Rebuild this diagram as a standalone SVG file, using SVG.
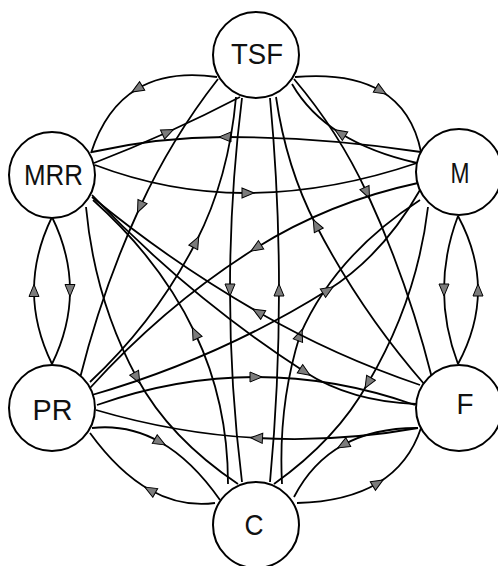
<svg xmlns="http://www.w3.org/2000/svg" width="498" height="566" viewBox="0 0 498 566">
  <style>
    .edge { fill: none; stroke: #000; stroke-width: 1.8; marker-mid: url(#arr); }
    .node circle { fill: #fff; stroke: #000; stroke-width: 2; }
    .node text { font-family: "Liberation Sans", Arial, sans-serif; font-size: 29px; fill: #111; text-anchor: middle; dominant-baseline: central; }
  </style>
  <defs>
    <marker id="arr" viewBox="0 0 14 12" refX="7" refY="6" markerWidth="14" markerHeight="12" markerUnits="userSpaceOnUse" orient="auto">
      <path d="M1,1 L13,6 L1,11 Z" fill="#7c7c7c" stroke="#000" stroke-width="1"/>
    </marker>
  </defs>
  <rect width="498" height="566" fill="#fff"/>

  <g id="connectors">
    <!-- ring neighbours -->
    <path class="edge" d="M217,77 Q168.5,70 137,89 Q105.5,108 91,153"/>
    <path class="edge" d="M94,163 Q131.5,148.5 168,132 Q204.5,115.5 240,97"/>
    <path class="edge" d="M295,77 Q349.5,72.25 381,91 Q412.5,109.75 421,152"/>
    <path class="edge" d="M417,163 Q371.25,152.75 340,133 Q308.75,113.25 292,84"/>
    <path class="edge" d="M52,217 Q70,253.75 70,290.5 Q70,327.25 52,364"/>
    <path class="edge" d="M52,364 Q34,327.25 34,290.5 Q34,253.75 52,217"/>
    <path class="edge" d="M458,216 Q444,253 444,290 Q444,327 458,364"/>
    <path class="edge" d="M458,364 Q478,327 478,290 Q478,253 458,216"/>
    <path class="edge" d="M92,428 Q128,424 160,442 Q192,460 220,500"/>
    <path class="edge" d="M215,503 Q181.25,507.5 150,490 Q118.75,472.5 90,433"/>
    <path class="edge" d="M297,503 Q347,501.75 378,483 Q409,464.25 421,428"/>
    <path class="edge" d="M418,428 Q374,427.75 343,445 Q312,462.25 294,497"/>
    <!-- horizontal and vertical pairs -->
    <path class="edge" d="M421,152 Q323.7,137 225,137 Q159.2,137 92,152"/>
    <path class="edge" d="M95,165 Q170,193.5 248,193 Q330,192.5 417,163"/>
    <path class="edge" d="M97,405 Q176.5,377 256,377 Q335.5,377 415,405"/>
    <path class="edge" d="M418,428 Q337,442.5 256.5,438 Q176,433.5 96,410"/>
    <path class="edge" d="M242,98 Q230,194 230,290 Q230,386 242,482"/>
    <path class="edge" d="M270,482 Q279,386 279,290 Q279,194 270,98"/>
    <!-- TSF / PR -->
    <path class="edge" d="M218,79 Q171.3,138.8 140,207 Q102.3,288.9 80,378"/>
    <path class="edge" d="M90,382 Q155.8,320.4 196,242 Q228.9,177.9 236,97"/>
    <!-- MRR / C -->
    <path class="edge" d="M86,207 Q94.6,299.7 137,378 Q169.6,438.2 238,484"/>
    <path class="edge" d="M228,484 Q228.1,402.6 195,333 Q160.6,260.6 93,200"/>
    <!-- TSF / F -->
    <path class="edge" d="M294,79 Q338.7,131.7 367,193 Q407.7,281.2 432,378"/>
    <path class="edge" d="M425,385 Q360.7,311.4 316,225 Q286.2,167.4 276,97"/>
    <!-- M / C -->
    <path class="edge" d="M428,207 Q417,300 368,383 Q337,439 274,484"/>
    <path class="edge" d="M282,484 Q278,405 300,335 Q335,255 420,200"/>
    <!-- M / PR -->
    <path class="edge" d="M418,183 Q329.8,201.9 256,248 Q165.8,304.4 90,388"/>
    <path class="edge" d="M92,395 Q218.4,358.5 328,290 Q382.4,256 420,190"/>
    <!-- MRR / F -->
    <path class="edge" d="M92,195 Q188.7,297 305,372 Q350.7,401.5 416,404"/>
    <path class="edge" d="M420,385 Q335.1,356.2 258,312 Q171.1,262.2 92,197"/>
  </g>

  <g id="TSF" class="node"><circle cx="256" cy="55" r="43"/><text x="257" y="54" textLength="52" lengthAdjust="spacingAndGlyphs">TSF</text></g>
  <g id="M" class="node"><circle cx="459" cy="172" r="43"/><text x="460" y="172.5" textLength="19" lengthAdjust="spacingAndGlyphs">M</text></g>
  <g id="F" class="node"><circle cx="459" cy="408" r="43"/><text x="465" y="404" textLength="17" lengthAdjust="spacingAndGlyphs">F</text></g>
  <g id="C" class="node"><circle cx="256" cy="525" r="43"/><text x="254" y="525" textLength="19" lengthAdjust="spacingAndGlyphs">C</text></g>
  <g id="PR" class="node"><circle cx="52" cy="408" r="43"/><text x="52.5" y="410" textLength="40" lengthAdjust="spacingAndGlyphs">PR</text></g>
  <g id="MRR" class="node"><circle cx="52" cy="175" r="43"/><text x="53.5" y="175" textLength="59" lengthAdjust="spacingAndGlyphs">MRR</text></g>
</svg>
